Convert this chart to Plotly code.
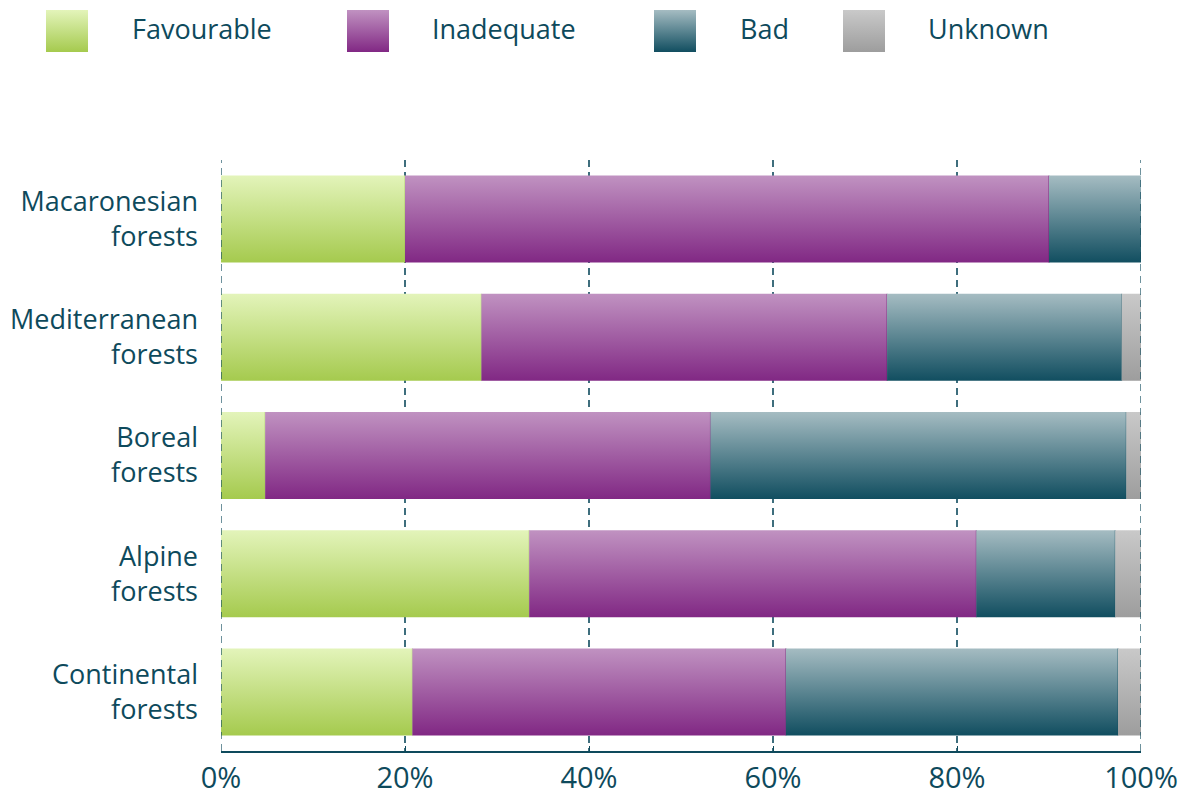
import plotly.graph_objects as go

# Conservation status of forest habitats by biogeographical group (% of assessments)
categories = ["Macaronesian<br>forests", "Mediterranean<br>forests", "Boreal<br>forests",
              "Alpine<br>forests", "Continental<br>forests"]
favourable = [20.0, 28.3, 4.8, 33.5, 20.8]
inadequate = [70.0, 44.1, 48.4, 48.6, 40.6]
bad = [10.0, 25.5, 45.2, 15.1, 36.1]
unknown = [0.0, 2.1, 1.6, 2.8, 2.5]

series_names = ["Favourable", "Inadequate", "Bad", "Unknown"]
series_values = [favourable, inadequate, bad, unknown]
# (top colour, bottom colour) of each vertical gradient
series_colors = [("#e3f4ba", "#a5ca4e"), ("#c092c1", "#812884"),
                 ("#a5bcc2", "#114e60"), ("#c9c9c9", "#9d9d9d")]
edge_colors = ["rgba(150,190,80,0.6)", "rgba(110,30,115,0.8)",
               "rgba(17,78,96,0.7)", "rgba(140,140,140,0.6)"]

TEXT = "#0e4a5c"
GRID = "rgba(14,74,92,0.8)"
FONT = "Open Sans"
BAR_HALF = 0.368
X_TICKS = [0, 20, 40, 60, 80, 100]

fig = go.Figure()

n = len(categories)
ypos = [n - 1 - i for i in range(n)]  # first category on top

for i, cat in enumerate(categories):
    yc = ypos[i]
    left = 0.0
    for s, vals in enumerate(series_values):
        v = vals[i]
        if v <= 0:
            continue
        right = left + v
        top_c, bot_c = series_colors[s]
        fig.add_trace(go.Scatter(
            x=[left, right, right, left, left],
            y=[yc - BAR_HALF, yc - BAR_HALF, yc + BAR_HALF, yc + BAR_HALF, yc - BAR_HALF],
            mode="lines", fill="toself", line=dict(width=0),
            fillgradient=dict(type="vertical", colorscale=[[0, bot_c], [1, top_c]]),
            hoverinfo="text", text=f"{series_names[s]}: {v:.1f}%",
            showlegend=False, xaxis="x", yaxis="y",
        ))
        if right < 99.99:
            fig.add_trace(go.Scatter(
                x=[right, right], y=[yc - BAR_HALF, yc + BAR_HALF],
                mode="lines", line=dict(width=1, color=edge_colors[s]),
                hoverinfo="skip", showlegend=False, xaxis="x", yaxis="y",
            ))
        left = right

# Dashed guides at the ends of the axis (plotly skips gridlines on the range edges)
for xv in (X_TICKS[0], X_TICKS[-1]):
    fig.add_shape(type="line", x0=xv, x1=xv, y0=0, y1=1, xref="x", yref="y domain",
                  line=dict(color=GRID, width=1.5, dash="7px,5px"), layer="above")

# Legend drawn as gradient squares on a small helper axis
legend_square_x = [67, 368, 675, 864]
legend_text_x = [130, 430, 738, 926]
for s, name in enumerate(series_names):
    top_c, bot_c = series_colors[s]
    fig.add_trace(go.Scatter(
        x=[legend_square_x[s]], y=[0.5], mode="markers",
        marker=dict(symbol="square", size=42, color=top_c,
                    gradient=dict(type="vertical", color=bot_c),
                    line=dict(width=0)),
        hoverinfo="skip", showlegend=False, xaxis="x2", yaxis="y2", cliponaxis=False,
    ))
    fig.add_annotation(x=legend_text_x[s], y=0.5, xref="x2", yref="y2", yshift=3,
                       text=name, showarrow=False, xanchor="left", yanchor="middle",
                       font=dict(family=FONT, size=27, color=TEXT))

W, H = 1195, 798
m_l, m_r, m_t, m_b = 0, 0, 5, 47
pw, ph = W - m_l - m_r, H - m_t - m_b
plot_top = 160
plot_bottom = H - m_b

fig.update_layout(
    width=W, height=H,
    margin=dict(l=m_l, r=m_r, t=m_t, b=m_b, autoexpand=False),
    paper_bgcolor="white", plot_bgcolor="white",
    showlegend=False,
    xaxis=dict(
        domain=[221 / pw, 1141 / pw], range=[0, 100], automargin=False,
        tickvals=X_TICKS, ticktext=[f"{t}%" for t in X_TICKS],
        showgrid=True, gridcolor=GRID, gridwidth=1.5, griddash="7px,5px",
        zeroline=False, showline=True, linecolor=TEXT, linewidth=2,
        ticks="inside", ticklen=5, tickcolor=TEXT, tickwidth=1,
        tickfont=dict(family=FONT, size=29, color=TEXT),
        ticklabelstandoff=0,
        layer="above traces", fixedrange=True,
    ),
    yaxis=dict(
        domain=[0, (plot_bottom - plot_top) / ph], range=[-0.5, n - 0.5], automargin=False,
        tickvals=ypos, ticktext=categories,
        showgrid=False, zeroline=False, showline=False, ticks="",
        tickfont=dict(family=FONT, size=27, color=TEXT),
        ticklabelstandoff=22, fixedrange=True,
    ),
    xaxis2=dict(domain=[0, 1], range=[0, W], visible=False, anchor="y2",
                automargin=False, fixedrange=True),
    yaxis2=dict(domain=[(plot_bottom - 52) / ph, (plot_bottom - 10) / ph], range=[0, 1],
                visible=False, anchor="x2", automargin=False, fixedrange=True),
)

fig.write_html("out.html")
